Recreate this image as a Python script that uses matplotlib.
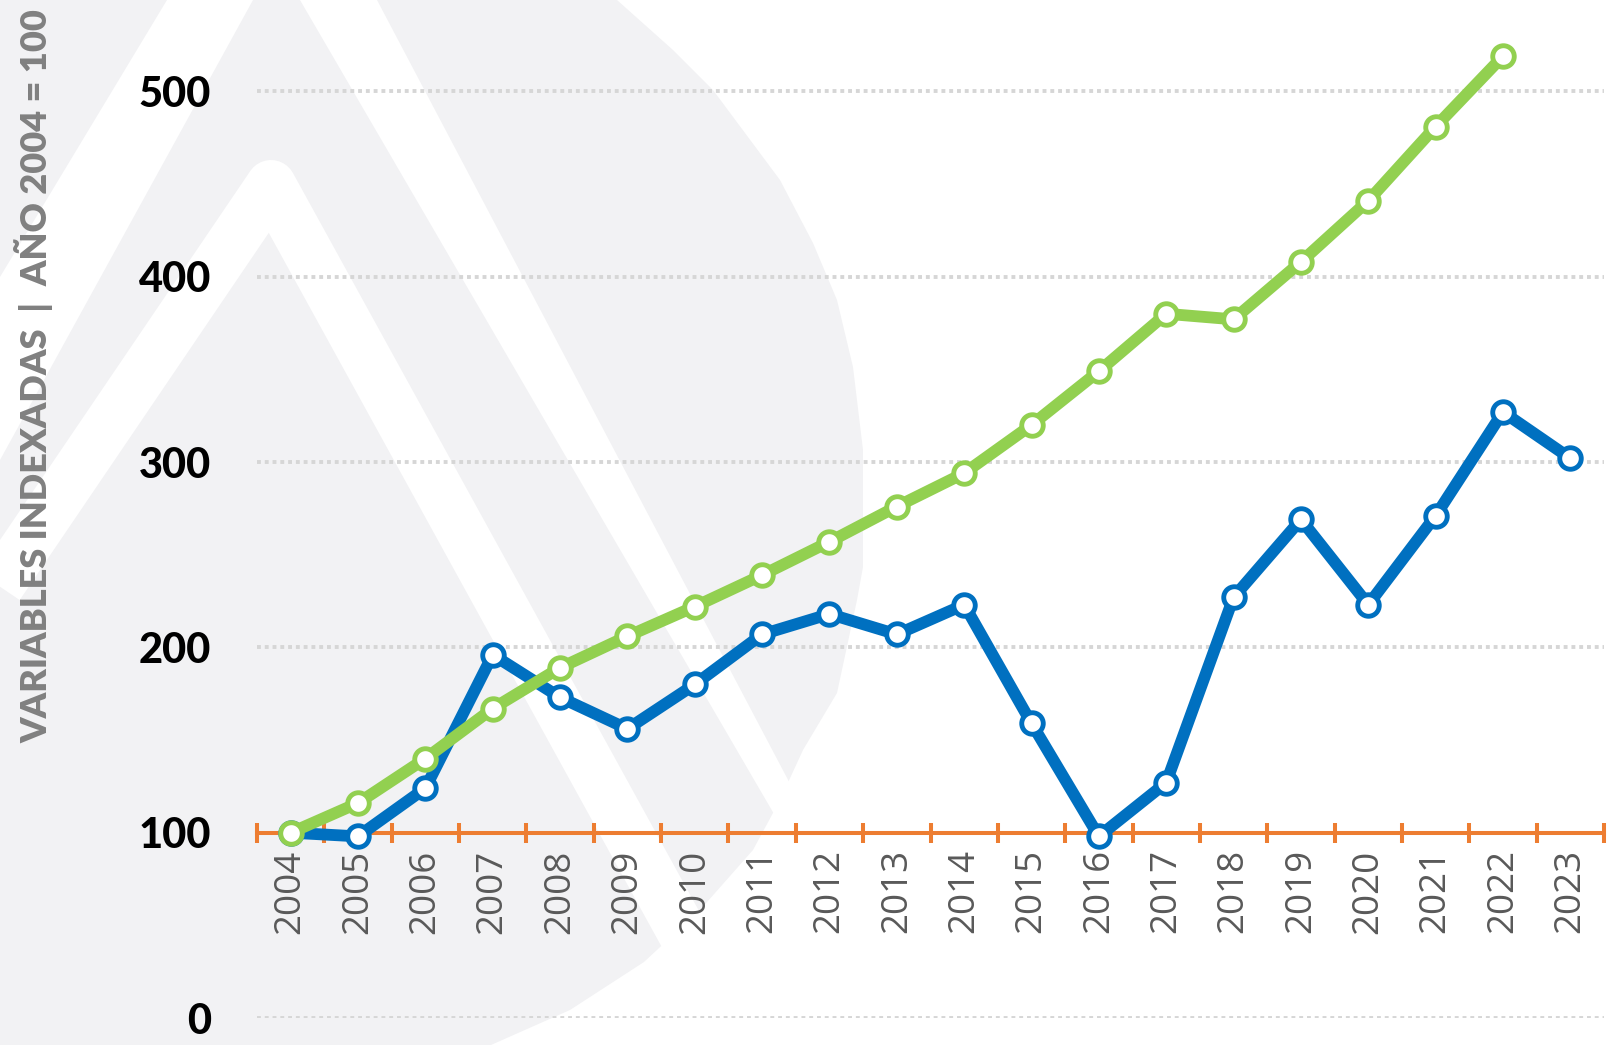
import matplotlib
matplotlib.use("Agg")
import matplotlib.pyplot as plt
from matplotlib.patches import Polygon

# data
years = list(range(2004, 2024))
blue_vals = [100, 98, 124, 196, 173, 156, 180, 207, 218, 207, 223, 159, 98, 127, 227, 269, 223, 271, 327, 302]
green_vals = [100, 116, 140, 167, 189, 206, 222, 239, 257, 276, 294, 320, 349, 380, 377, 408, 441, 481, 519]
green_years = years[:len(green_vals)]
y_ticks = [0, 100, 200, 300, 400, 500]
y_title = "VARIABLES INDEXADAS  |  AÑO 2004 = 100"

BLUE = "#0070C0"
GREEN = "#92D050"
ORANGE = "#ED7D31"
W, H = 1614, 1045

fig = plt.figure(figsize=(W / 100, H / 100), dpi=100)

# watermark logo behind the chart, drawn in pixel coords
bg = fig.add_axes([0, 0, 1, 1], zorder=0)
bg.set_xlim(0, W)
bg.set_ylim(H, 0)
bg.axis("off")
blob = [(0, 0), (617, 0), (673, 50), (713, 90), (780, 180), (813, 243), (837, 300),
        (853, 367), (863, 450), (863, 567), (857, 600), (837, 693), (803, 750),
        (780, 800), (753, 850), (700, 910), (644, 962), (570, 1010), (491, 1045), (0, 1045)]
bg.add_patch(Polygon(blob, closed=True, color="#F2F2F4", lw=0))
bg.add_patch(Polygon([(167, 0), (253, 0), (0, 460), (0, 277)], color="white", lw=0))
bg.add_patch(Polygon([(300, 0), (377, 0), (825, 850), (795, 850)], color="white", lw=0))
px = 0.72  # points per pixel at 100 dpi
bg.plot([-60, 271, 780], [673, 185, 1110], color="white", lw=50 * px,
        solid_capstyle="butt", solid_joinstyle="round")

ax = fig.add_axes([257 / W, 27 / H, 1347 / W, 1010 / H], zorder=1)
ax.set_facecolor("none")
ax.set_xlim(2003.5, 2023.5)
ax.set_ylim(0, 545)

for v in y_ticks:
    ax.axhline(v, color="#D6D6D6", lw=2.8, ls=(0, (1, 1)), zorder=1)

ax.plot(years, blue_vals, color=BLUE, lw=8.5, marker="o", ms=15.5,
        mfc="white", mec=BLUE, mew=3.5, zorder=4, clip_on=False)
ax.plot(green_years, green_vals, color=GREEN, lw=8.5, marker="o", ms=15.5,
        mfc="white", mec=GREEN, mew=3.5, zorder=5, clip_on=False)

for s in ["top", "right", "left"]:
    ax.spines[s].set_visible(False)
ax.spines["bottom"].set_position(("data", 100))
ax.spines["bottom"].set_color(ORANGE)
ax.spines["bottom"].set_linewidth(2.9)
ax.spines["bottom"].set_zorder(3)

ax.set_xticks([y + 0.5 for y in range(2003, 2024)])
ax.set_xticklabels([])
ax.set_xticks(years, minor=True)
ax.set_xticklabels([str(y) for y in years], minor=True, rotation=90,
                   fontsize=26.5, color="#595959", family="Open Sans")
ax.tick_params(axis="x", which="major", direction="inout", length=15,
               width=2.9, color=ORANGE)
ax.tick_params(axis="x", which="minor", length=0, pad=12)

ax.set_yticks(y_ticks)
ax.set_yticklabels([str(v) for v in y_ticks], fontsize=30, fontweight="black",
                   family="Lato", color="black")
ax.tick_params(axis="y", length=0, pad=33)

fig.text(34 / W, 1 - 376 / H, y_title, rotation=90, ha="center", va="center",
         fontsize=26, fontweight="heavy", color="#808080", family="Lato")

fig.savefig("out.png", dpi=100)
